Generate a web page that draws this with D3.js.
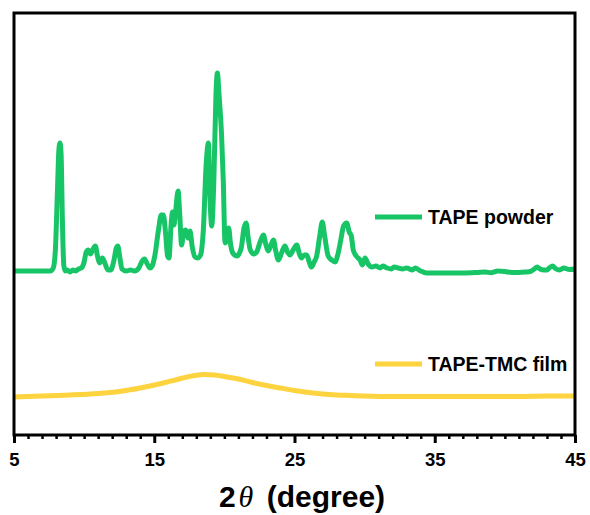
<!DOCTYPE html>
<html>
<head>
<meta charset="utf-8">
<script src="https://cdn.jsdelivr.net/npm/d3@7"></script>
<style>
  html, body { margin: 0; padding: 0; background: #fff; }
  svg { display: block; }
</style>
</head>
<body>
<svg id="chart" width="590" height="515"></svg>
<script>
// XRD patterns (2θ in degrees, intensity in a.u. with vertical offset for stacking)
const powderTheta = [5.0, 7.0, 7.6, 7.8, 7.95, 8.1, 8.2, 8.28, 8.36, 8.45, 8.55, 8.65, 8.8, 9.0, 9.2, 9.4, 9.6, 9.8,
  10.0, 10.15, 10.3, 10.45, 10.6, 10.8, 10.95, 11.1, 11.3, 11.45, 11.7, 11.9, 12.1, 12.3, 12.4, 12.55, 12.7,
  13.0, 13.3, 13.6, 13.9, 14.1, 14.3, 14.5, 14.7, 14.85, 15.05, 15.3, 15.5, 15.65, 15.8, 15.95, 16.05, 16.2,
  16.3, 16.4, 16.5, 16.7, 16.82, 16.95, 17.1, 17.25, 17.4, 17.55, 17.7, 17.9, 18.1, 18.3, 18.5, 18.7, 18.86,
  18.98, 19.1, 19.25, 19.4, 19.5, 19.62, 19.8, 19.92, 20.05, 20.2, 20.3, 20.45, 20.6, 20.9, 21.2, 21.4, 21.55,
  21.7, 21.85, 22.1, 22.3, 22.55, 22.78, 22.95, 23.13, 23.35, 23.5, 23.65, 23.85, 24.1, 24.32, 24.5, 24.68,
  24.9, 25.16, 25.35, 25.5, 25.7, 25.87, 26.05, 26.2, 26.4, 26.58, 26.8, 26.98, 27.15, 27.4, 27.65, 27.89,
  28.1, 28.3, 28.5, 28.72, 28.9, 29.05, 29.19, 29.4, 29.67, 29.85, 30.03, 30.25, 30.5, 30.8, 31.1, 31.3, 31.6,
  31.9, 32.1, 32.4, 32.7, 33.0, 33.4, 33.6, 34.0, 34.4, 35.0, 36.0, 37.0, 38.0, 38.6, 39.0, 39.5, 40.0, 40.5,
  41.0, 41.5, 41.8, 42.1, 42.3, 42.5, 42.8, 43.0, 43.2, 43.4, 43.6, 43.9, 44.2, 44.6, 45.0];
const powderIntensity = [164, 164, 164, 167, 185, 245, 285, 292, 280, 215, 170, 164, 165, 163, 165, 164, 166, 167,
  173, 183, 185, 181, 185, 189, 179, 172, 177, 173, 165, 165, 173, 187, 189, 177, 166,
  164, 165, 164, 167, 173, 176, 171, 167, 169, 180, 205, 220, 220, 203, 179, 177, 210,
  223, 210, 220, 244, 220, 190, 203, 205, 197, 204, 189, 178, 177, 180, 205, 270, 292,
  235, 209, 255, 340, 362, 340, 300, 255, 192, 197, 207, 190, 182, 179, 187, 207, 212,
  197, 185, 181, 183, 193, 200, 191, 184, 191, 195, 185, 175, 183, 189, 183, 180,
  185, 190, 181, 177, 180, 180, 173, 168, 173, 179, 199, 213, 199, 179, 175, 173,
  181, 195, 209, 212, 203, 199, 185, 179, 175, 170, 177, 171, 168, 169, 167, 169, 167,
  166, 168, 167, 166, 167, 165, 167, 164, 162, 162, 162, 162, 162.5, 163, 162.3, 164, 163.5, 162.5,
  162.5, 163, 163.5, 166, 168, 166, 165, 165, 167.5, 169, 166.5, 165, 167, 165.5, 166];

const filmTheta = [5, 7, 9, 11, 12.5, 14, 15.5, 16.5, 17.5, 18.5, 19.3, 20, 21, 22, 23, 24, 25, 26, 27, 28, 29, 30,
  32, 35, 38, 41, 43, 45];
const filmIntensity = [38, 39, 40, 41.5, 43.5, 47, 51.5, 55, 58.5, 60.5, 60, 58.5, 56, 52.5, 49.5, 47, 44.5, 42.5,
  41, 40, 39.5, 39, 38.5, 38.5, 38.5, 38.5, 39, 39];

const xTicks = [5, 15, 25, 35, 45];
const seriesNames = ["TAPE powder", "TAPE-TMC film"];
const seriesColors = ["#17c567", "#fdd33f"];

const svg = d3.select("#chart");
const margin = { left: 14, right: 15, top: 13, bottom: 80 };
const W = 590, H = 515;

const x = d3.scaleLinear().domain([5, 45]).range([margin.left, W - margin.right]);
const y = d3.scaleLinear().domain([0, 422]).range([H - margin.bottom, margin.top]);

const line = d3.line()
  .x(d => x(d[0]))
  .y(d => y(d[1]))
  .curve(d3.curveMonotoneX);

const powder = d3.zip(powderTheta, powderIntensity);
const film = d3.zip(filmTheta, filmIntensity);

// traces
svg.append("path")
  .datum(film)
  .attr("d", line)
  .attr("fill", "none")
  .attr("stroke", seriesColors[1])
  .attr("stroke-width", 5)
  .attr("stroke-linejoin", "round");

svg.append("path")
  .datum(powder)
  .attr("d", line)
  .attr("fill", "none")
  .attr("stroke", seriesColors[0])
  .attr("stroke-width", 5)
  .attr("stroke-linejoin", "round");

// minor ticks, every degree
const bottomY = H - margin.bottom;
const minorAxis = d3.axisBottom(x)
  .tickValues(d3.range(5, 46, 1).filter(v => !xTicks.includes(v)))
  .tickSize(4)
  .tickFormat("");
svg.append("g")
  .attr("transform", `translate(0,${bottomY})`)
  .call(minorAxis)
  .call(g => g.select(".domain").remove())
  .call(g => g.selectAll("line").attr("stroke", "#000").attr("stroke-width", 2.5));

// major ticks with labels
const majorAxis = d3.axisBottom(x)
  .tickValues(xTicks)
  .tickSize(8)
  .tickPadding(10)
  .tickFormat(d3.format("d"));
svg.append("g")
  .attr("transform", `translate(0,${bottomY})`)
  .call(majorAxis)
  .call(g => g.select(".domain").remove())
  .call(g => g.selectAll("line").attr("stroke", "#000").attr("stroke-width", 3))
  .call(g => g.selectAll("text")
    .attr("fill", "#000")
    .attr("font-family", "Liberation Sans, Arial, sans-serif")
    .attr("font-weight", "bold")
    .attr("font-size", "18.5px"));

// frame
svg.append("rect")
  .attr("x", margin.left)
  .attr("y", margin.top)
  .attr("width", W - margin.left - margin.right)
  .attr("height", bottomY - margin.top)
  .attr("fill", "none")
  .attr("stroke", "#000")
  .attr("stroke-width", 3);

// axis title
const title = svg.append("text")
  .attr("x", 302)
  .attr("y", 507)
  .attr("text-anchor", "middle")
  .attr("font-family", "Liberation Sans, Arial, sans-serif")
  .attr("font-weight", "bold")
  .attr("font-size", "30px")
  .attr("fill", "#000");
title.append("tspan").text("2");
title.append("tspan")
  .attr("font-family", "Liberation Serif, Times New Roman, serif")
  .attr("font-style", "italic")
  .attr("font-weight", "normal")
  .attr("dx", 3)
  .text("θ");
title.append("tspan").attr("dx", 5).text(" (degree)");

// legend
const legendY = [217, 364];
seriesNames.forEach((name, i) => {
  const g = svg.append("g").attr("transform", `translate(375,${legendY[i]})`);
  g.append("line")
    .attr("x1", 0).attr("x2", 47)
    .attr("y1", 0).attr("y2", 0)
    .attr("stroke", seriesColors[i])
    .attr("stroke-width", 5);
  g.append("text")
    .attr("x", 53)
    .attr("y", 7)
    .attr("font-family", "Liberation Sans, Arial, sans-serif")
    .attr("font-weight", "bold")
    .attr("font-size", "19.5px")
    .attr("fill", "#000")
    .text(name);
});
</script>
</body>
</html>
